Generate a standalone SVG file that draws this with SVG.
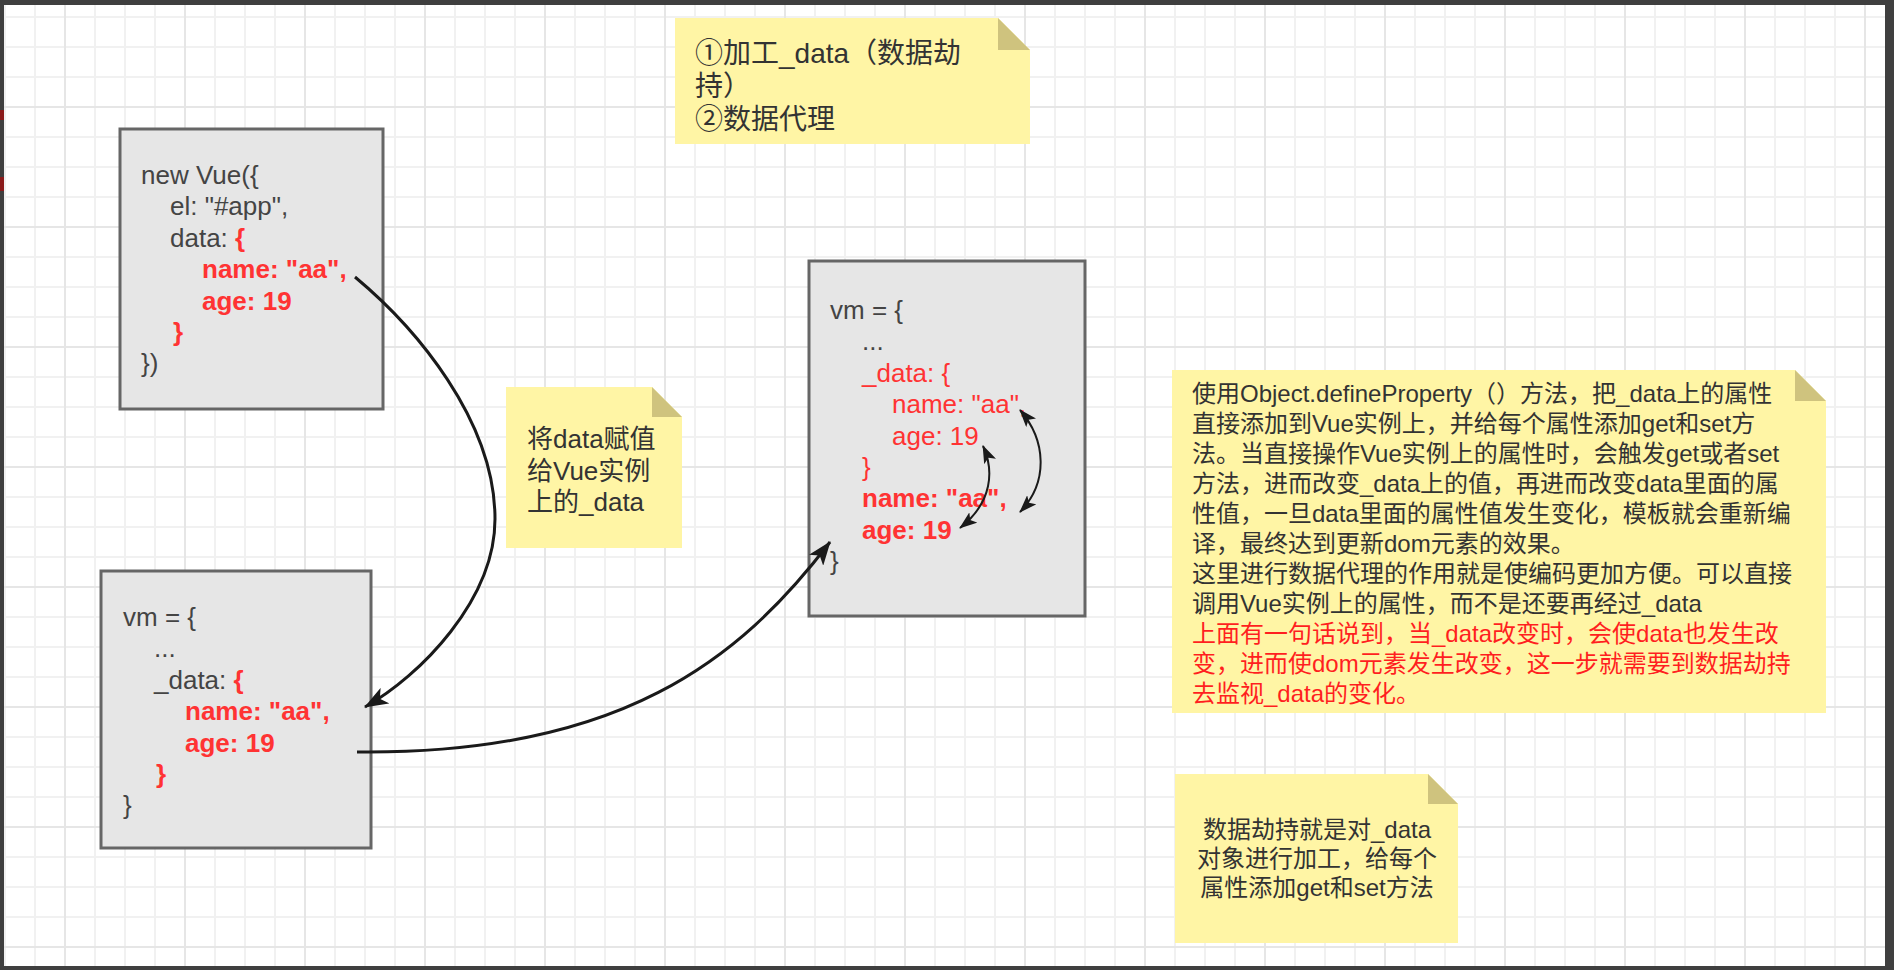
<svg xmlns="http://www.w3.org/2000/svg" width="1894" height="970" viewBox="0 0 1894 970">
<style>
.code{font-family:"Liberation Sans","Noto Sans CJK SC",sans-serif;font-size:26px;fill:#444}
.r{fill:#ff3333}
.b{font-weight:bold}
.note{font-family:"Liberation Sans","Noto Sans CJK SC",sans-serif;font-size:24px;fill:#333}
.nr{fill:#ff1f1f}
.box{fill:#e6e6e6;stroke:#666;stroke-width:3}
.nt{fill:#fff5a5}
.fold{fill:#cfc37e}
.edge{fill:none;stroke:#1a1a1a;stroke-width:3}
.sedge{fill:none;stroke:#1a1a1a;stroke-width:2}
</style>
<defs>
<pattern id="grid" x="64" y="106" width="120" height="120" patternUnits="userSpaceOnUse">
<path d="M31 0V120M61 0V120M91 0V120M0 31H120M0 61H120M0 91H120" stroke="#f1f1f1" stroke-width="2"/>
<path d="M1 0V120M0 1H120" stroke="#e6e6e6" stroke-width="2"/>
</pattern>
<marker id="arr" viewBox="0 0 24 18" refX="23" refY="9" markerWidth="24" markerHeight="18" orient="auto-start-reverse" markerUnits="userSpaceOnUse">
<path d="M0,0 L24,9 L0,18 L6,9 Z" fill="#1a1a1a"/>
</marker>
<marker id="sarr" viewBox="0 0 18 13" refX="17" refY="6.5" markerWidth="18" markerHeight="13" orient="auto-start-reverse" markerUnits="userSpaceOnUse">
<path d="M0,0 L18,6.5 L0,13 L4,6.5 Z" fill="#1a1a1a"/>
</marker>
</defs>

<rect x="0" y="0" width="1894" height="970" fill="#ffffff"/>
<rect x="0" y="0" width="1894" height="970" fill="url(#grid)"/>

<!-- window frame -->
<g id="frame">
<rect x="0" y="0" width="1894" height="5" fill="#3f3f3f"/>
<rect x="0" y="0" width="4" height="970" fill="#3f3f3f"/>
<rect x="1885" y="0" width="9" height="970" fill="#3f3f3f"/>
<rect x="0" y="966" width="1894" height="4" fill="#3f3f3f"/>
<rect x="0" y="110" width="4" height="10" fill="#8b1a1a"/>
<rect x="0" y="177" width="4" height="14" fill="#8b1a1a"/>
</g>

<g id="note-top">
<path class="nt" d="M675 18H998L1030 50V144H675Z"/>
<path class="fold" d="M998 18V50H1030Z"/>
<text class="note" style="font-size:28px" x="695" y="63">①加工_data（数据劫</text>
<text class="note" style="font-size:28px" x="695" y="96">持）</text>
<text class="note" style="font-size:28px" x="695" y="129">②数据代理</text>
</g>

<g id="new-vue">
<rect class="box" x="120" y="129" width="263" height="280"/>
<text class="code" x="141" y="184">new Vue({</text>
<text class="code" x="170" y="215.4">el: "#app",</text>
<text class="code" x="170" y="246.8">data: <tspan class="r b">{</tspan></text>
<text class="code r b" x="202" y="278.2">name: "aa",</text>
<text class="code r b" x="202" y="309.6">age: 19</text>
<text class="code r b" x="173" y="341">}</text>
<text class="code" x="141" y="372.4">})</text>
</g>

<g id="vm-left">
<rect class="box" x="101" y="571" width="270" height="277"/>
<text class="code" x="123" y="626">vm = {</text>
<text class="code" x="154" y="657.4">...</text>
<text class="code" x="154" y="688.8">_data: <tspan class="r b">{</tspan></text>
<text class="code r b" x="185" y="720.2">name: "aa",</text>
<text class="code r b" x="185" y="751.6">age: 19</text>
<text class="code r b" x="156" y="783">}</text>
<text class="code" x="123" y="814.4">}</text>
</g>

<g id="vm-right">
<rect class="box" x="809" y="261" width="276" height="355"/>
<text class="code" x="830" y="319">vm = {</text>
<text class="code" x="862" y="350.4">...</text>
<text class="code r" x="862" y="381.8">_data: {</text>
<text class="code r" x="892" y="413.2">name: "aa",</text>
<text class="code r" x="892" y="444.6">age: 19</text>
<text class="code r" x="862" y="476">}</text>
<text class="code r b" x="862" y="507.4">name: "aa",</text>
<text class="code r b" x="862" y="538.8">age: 19</text>
<text class="code" x="830" y="570.2">}</text>
</g>

<g id="note-assign">
<path class="nt" d="M506 387H652L682 417V548H506Z"/>
<path class="fold" d="M652 387V417H682Z"/>
<text class="note" style="font-size:26px" x="527" y="448">将data赋值</text>
<text class="note" style="font-size:26px" x="527" y="479.5">给Vue实例</text>
<text class="note" style="font-size:26px" x="527" y="511">上的_data</text>
</g>

<g id="note-explain">
<path class="nt" d="M1172 370H1795L1826 401V713H1172Z"/>
<path class="fold" d="M1795 370V401H1826Z"/>
<text class="note" x="1192" y="402">使用Object.defineProperty（）方法，把_data上的属性</text>
<text class="note" x="1192" y="432">直接添加到Vue实例上，并给每个属性添加get和set方</text>
<text class="note" x="1192" y="462">法。当直接操作Vue实例上的属性时，会触发get或者set</text>
<text class="note" x="1192" y="492">方法，进而改变_data上的值，再进而改变data里面的属</text>
<text class="note" x="1192" y="522">性值，一旦data里面的属性值发生变化，模板就会重新编</text>
<text class="note" x="1192" y="552">译，最终达到更新dom元素的效果。</text>
<text class="note" x="1192" y="582">这里进行数据代理的作用就是使编码更加方便。可以直接</text>
<text class="note" x="1192" y="612">调用Vue实例上的属性，而不是还要再经过_data</text>
<text class="note nr" x="1192" y="642">上面有一句话说到，当_data改变时，会使data也发生改</text>
<text class="note nr" x="1192" y="672">变，进而使dom元素发生改变，这一步就需要到数据劫持</text>
<text class="note nr" x="1192" y="702">去监视_data的变化。</text>
</g>

<g id="note-hijack">
<path class="nt" d="M1175 774H1428L1458 804V943H1175Z"/>
<path class="fold" d="M1428 774V804H1458Z"/>
<text class="note" text-anchor="middle" x="1317" y="838">数据劫持就是对_data</text>
<text class="note" text-anchor="middle" x="1317" y="867">对象进行加工，给每个</text>
<text class="note" text-anchor="middle" x="1317" y="896">属性添加get和set方法</text>
</g>

<g id="connectors">
<path class="edge" marker-end="url(#arr)" d="M355 277C415 327 495 420 495 519C495 600 420 676 365 707"/>
<path class="edge" marker-end="url(#arr)" d="M357 752C620 755 740 660 830 542"/>
<path class="sedge" marker-start="url(#sarr)" marker-end="url(#sarr)" d="M983 446C994 470 993 502 960 528"/>
<path class="sedge" marker-start="url(#sarr)" marker-end="url(#sarr)" d="M1020 410C1046 440 1049 482 1020 512"/>
</g>
</svg>
